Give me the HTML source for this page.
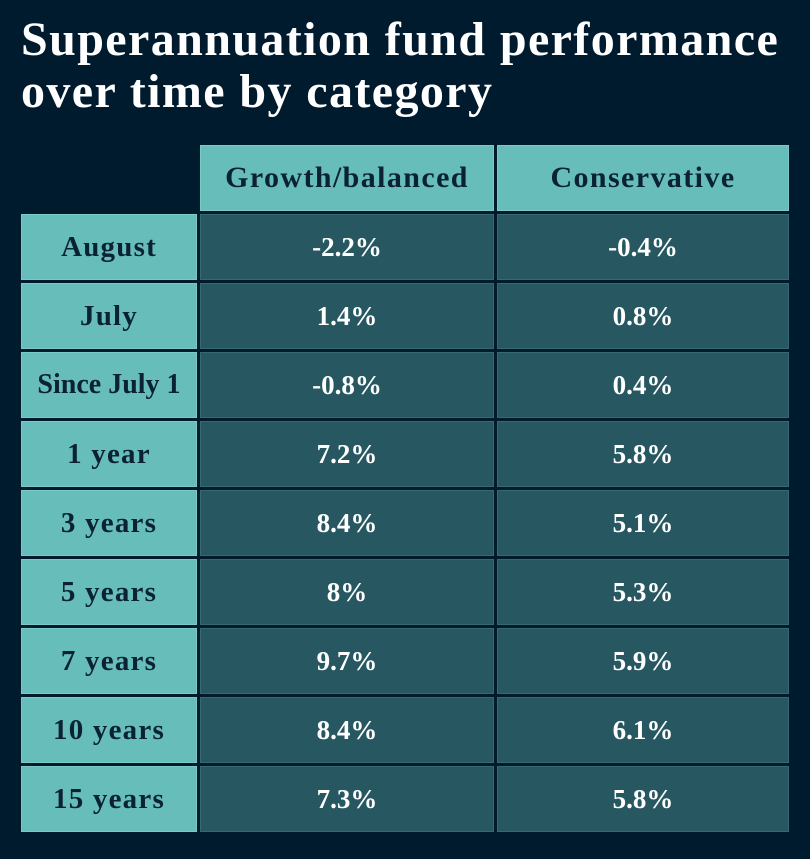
<!DOCTYPE html>
<html><head><style>
body{margin:0;background:#001a2e;width:810px;height:859px;overflow:hidden;font-family:"Liberation Serif",serif;position:relative}
h1{position:absolute;left:21px;top:14px;margin:0;color:#fff;font-size:48px;line-height:52px;font-weight:bold;letter-spacing:1.4px}
.c{position:absolute;box-sizing:border-box;display:flex;align-items:center;justify-content:center;font-weight:bold;font-size:27px}
.t{background:#66bdba;color:#0a2233;border:1px solid #7ccac7;font-size:29px;letter-spacing:1.2px}
.h{font-size:30px;letter-spacing:1.4px}
.d{background:#275862;color:#fff;border:1px solid #356a73}
</style></head><body>
<h1>Superannuation fund performance<br>over time by category</h1>
<div class="c t h" style="left:200px;top:145px;width:294px;height:66px">Growth/balanced</div>
<div class="c t h" style="left:497px;top:145px;width:292px;height:66px">Conservative</div>
<div id="rows"></div>
<script>
var r=[["August","-2.2%","-0.4%"],["July","1.4%","0.8%"],["Since July 1","-0.8%","0.4%"],["1 year","7.2%","5.8%"],["3 years","8.4%","5.1%"],["5 years","8%","5.3%"],["7 years","9.7%","5.9%"],["10 years","8.4%","6.1%"],["15 years","7.3%","5.8%"]];
var h="";r.forEach(function(x,i){var y=214+i*69;
h+='<div class="c t" style="left:21px;top:'+y+'px;width:176px;height:66px;'+(i==2?'letter-spacing:0px;font-size:28px;':'')+'">'+x[0]+'</div>';
h+='<div class="c d" style="left:200px;top:'+y+'px;width:294px;height:66px">'+x[1]+'</div>';
h+='<div class="c d" style="left:497px;top:'+y+'px;width:292px;height:66px">'+x[2]+'</div>';});
document.getElementById("rows").innerHTML=h;
</script>
</body></html>
